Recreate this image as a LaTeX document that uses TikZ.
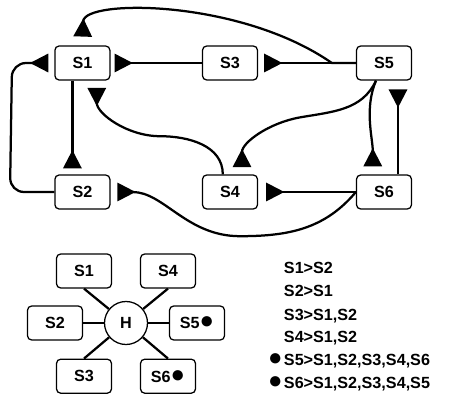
\documentclass[tikz,border=0pt]{standalone}
\usepackage{fontspec}
\setmainfont{Liberation Sans}
\usetikzlibrary{arrows.meta}

\newcommand{\bigdot}{{\fontsize{17}{17}\selectfont ●}}

\begin{document}
\begin{tikzpicture}[>={Triangle[reversed,length=13pt,width=13pt]},
  font=\fontsize{11.5}{14}\selectfont\bfseries,
  box/.style={draw,rounded corners=3pt,line width=0.9pt,minimum width=1.375cm,minimum height=0.85cm},
  hub/.style={draw,circle,line width=0.9pt,minimum size=1.075cm,inner sep=0pt},
  conn/.style={->,line width=1.6pt,shorten >=0.15cm},
  spoke/.style={line width=1.6pt}]
\useasboundingbox (0,0) rectangle (11.425,10.125);

\node[box] (s1) at (2.06,8.55) {S1};
\node[box] (s3) at (5.75,8.55) {S3};
\node[box] (s5) at (9.6,8.55) {S5};
\node[box] (s2) at (2.06,5.325) {S2};
\node[box] (s4) at (5.75,5.325) {S4};
\node[box] (s6) at (9.6,5.325) {S6};

\draw[conn] ([xshift=-0.25cm]s1.south) -- ([xshift=-0.25cm]s2.north);
\draw[conn,rounded corners=0.35cm] (s2.west) -- (0.25,5.325) -- (0.3,8.55) -- (s1.west);
\draw[conn,shorten >=0.22cm] (s5.west) -- ++(-0.6,0) .. controls (6.0,10.15) and (2.1,10.15) .. (s1.north);
\draw[conn,shorten >=0.1cm] (s3.west) -- (s1.east);
\draw[conn] (s5.west) -- (s3.east);
\draw[conn,shorten >=0.18cm] ([xshift=-0.18cm]s4.north) to[out=90,in=0] (4.0,6.72) to[out=180,in=-90] ([xshift=0.36cm]s1.south);
\draw[conn,shorten >=0.18cm] ([xshift=-0.2cm]s5.south) to[out=-115,in=10] (7.5,7.19) to[out=190,in=90] ([xshift=0.3cm]s4.north);
\draw[conn,shorten >=0.2cm] ([xshift=-0.2cm]s5.south) .. controls +(-0.3,-0.7) and +(0,0.9) .. ([xshift=-0.28cm]s6.north);
\draw[conn,shorten >=0.22cm] ([xshift=0.35cm]s6.north) -- ([xshift=0.35cm]s5.south);
\draw[conn,shorten >=0.2cm] (s6.west) -- (s4.east);
\draw[conn,shorten >=0.17cm] (s6.west) to[out=-130,in=0] (6.0,4.22) to[out=180,in=0] (s2.east);

\node[hub] (h) at (3.15,2.05) {H};
\node[box] (st1) at (2.1,3.35) {S1};
\node[box] (st4) at (4.2,3.35) {S4};
\node[box] (st2) at (1.375,2.05) {S2};
\node[box] (st5) at (4.925,2.05) {S5\bigdot};
\node[box] (st3) at (2.1,0.72) {S3};
\node[box] (st6) at (4.2,0.72) {S6\bigdot};

\draw[spoke] (h) -- (st1.south);
\draw[spoke] (h) -- (st4.south);
\draw[spoke] (h) -- (st2);
\draw[spoke] (h) -- (st5);
\draw[spoke] (h) -- (st3.north);
\draw[spoke] (h) -- (st6.north);

\node[anchor=base west] (r1) at (6.975,3.29) {S1>S2};
\node[anchor=base west] (r2) at (6.975,2.71) {S2>S1};
\node[anchor=base west] (r3) at (6.975,2.125) {S3>S1,S2};
\node[anchor=base west] (r4) at (6.975,1.567) {S4>S1,S2};
\node[anchor=base west] (r5) at (6.975,1.0) {\llap{\bigdot\hspace{1pt}}S5>S1,S2,S3,S4,S6};
\node[anchor=base west] (r6) at (6.975,0.42) {\llap{\bigdot\hspace{1pt}}S6>S1,S2,S3,S4,S5};
\end{tikzpicture}
\end{document}
